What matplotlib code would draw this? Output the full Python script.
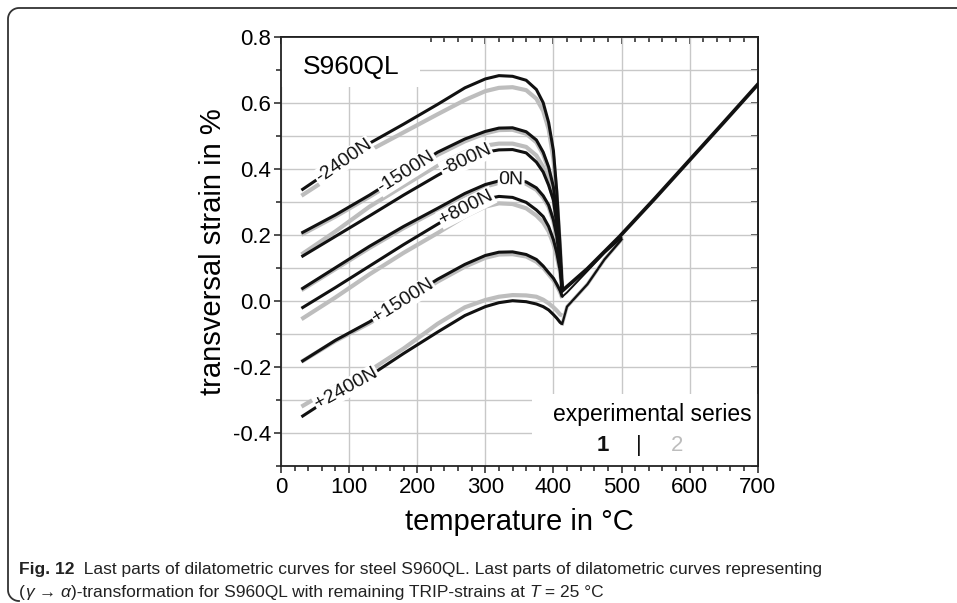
import numpy as np
import matplotlib
matplotlib.use("Agg")
import matplotlib.pyplot as plt
from matplotlib.lines import Line2D
from matplotlib.patches import Rectangle
from matplotlib.transforms import IdentityTransform
from matplotlib.ticker import MultipleLocator

plt.rcParams['font.family'] = ['Liberation Sans', 'DejaVu Sans']

# temperature grid (°C) for the cooling part below the transformation
temp = [30, 80, 130, 180, 230, 270, 300, 320, 340, 360, 375, 385, 393, 400, 405, 410, 413]

# transversal strain in %, series 1 (black) and series 2 (grey)
m2400_s1 = [0.335, 0.405, 0.477, 0.535, 0.595, 0.645, 0.672, 0.682, 0.680, 0.668, 0.640, 0.600, 0.540, 0.455, 0.330, 0.160, 0.035]
m2400_s2 = [0.318, 0.385, 0.455, 0.510, 0.565, 0.608, 0.635, 0.645, 0.647, 0.638, 0.612, 0.575, 0.520, 0.430, 0.310, 0.150, 0.035]
m1500_s1 = [0.205, 0.260, 0.320, 0.385, 0.450, 0.490, 0.513, 0.523, 0.524, 0.512, 0.487, 0.450, 0.405, 0.345, 0.260, 0.130, 0.030]
m1500_s2 = [0.200, 0.255, 0.315, 0.378, 0.442, 0.483, 0.507, 0.517, 0.518, 0.506, 0.480, 0.443, 0.398, 0.338, 0.255, 0.128, 0.030]
m800_s1 = [0.133, 0.195, 0.257, 0.320, 0.380, 0.425, 0.450, 0.457, 0.458, 0.448, 0.420, 0.390, 0.350, 0.305, 0.230, 0.120, 0.030]
m800_s2 = [0.140, 0.210, 0.285, 0.348, 0.410, 0.450, 0.470, 0.476, 0.476, 0.466, 0.440, 0.405, 0.360, 0.310, 0.235, 0.120, 0.030]
n0_s1 = [0.035, 0.100, 0.165, 0.225, 0.280, 0.325, 0.352, 0.363, 0.367, 0.360, 0.342, 0.318, 0.290, 0.245, 0.195, 0.110, 0.030]
n0_s2 = [0.032, 0.096, 0.160, 0.220, 0.275, 0.319, 0.346, 0.357, 0.361, 0.354, 0.336, 0.312, 0.284, 0.240, 0.190, 0.108, 0.030]
p800_s1 = [-0.023, 0.040, 0.105, 0.170, 0.232, 0.280, 0.308, 0.316, 0.313, 0.298, 0.275, 0.255, 0.225, 0.185, 0.145, 0.090, 0.030]
p800_s2 = [-0.056, 0.010, 0.080, 0.145, 0.205, 0.255, 0.285, 0.295, 0.293, 0.280, 0.258, 0.237, 0.210, 0.172, 0.135, 0.085, 0.030]
p1500_s1 = [-0.185, -0.120, -0.064, 0.000, 0.065, 0.110, 0.137, 0.147, 0.148, 0.140, 0.125, 0.105, 0.085, 0.068, 0.050, 0.030, 0.012]
p1500_s2 = [-0.185, -0.122, -0.068, -0.005, 0.058, 0.103, 0.130, 0.140, 0.141, 0.134, 0.118, 0.100, 0.080, 0.062, 0.045, 0.025, 0.008]
p2400_s1 = [-0.352, -0.285, -0.228, -0.160, -0.095, -0.045, -0.018, -0.006, 0.000, -0.003, -0.010, -0.018, -0.028, -0.042, -0.053, -0.066, -0.070]
p2400_s2 = [-0.321, -0.260, -0.212, -0.145, -0.070, -0.020, 0.002, 0.012, 0.017, 0.016, 0.012, 0.003, -0.008, -0.020, -0.030, -0.042, -0.045]

# reheating / austenite branch, common to all curves
temp_aus = [413, 450, 497, 550, 600, 650, 700]
eps_aus = [0.030, 0.097, 0.194, 0.312, 0.426, 0.540, 0.655]

# lower branches after the transformation for the tensile loads
temp_tail = [413, 420, 450, 475, 500]
tail_p1500 = [0.012, 0.025, 0.090, 0.145, 0.190]
tail_p2400 = [-0.070, -0.018, 0.050, 0.125, 0.185]

loads = ["-2400N", "-1500N", "-800N", "0N", "+800N", "+1500N", "+2400N"]
series1 = [m2400_s1, m1500_s1, m800_s1, n0_s1, p800_s1, p1500_s1, p2400_s1]
series2 = [m2400_s2, m1500_s2, m800_s2, n0_s2, p800_s2, p1500_s2, p2400_s2]
label_temp = [92, 184, 272, 338, 272, 179, 96]

BLACK = "#111111"
GREY = "#bdbdbd"

fig = plt.figure(figsize=(9.57, 6.03), dpi=100)

# page frame: open line along the top and the left side with rounded corners (pixels)
r = 11
a1 = np.linspace(np.pi / 2, np.pi, 20)
a2 = np.linspace(np.pi, 1.5 * np.pi, 20)
fx = np.concatenate([[960], 8 + r + r * np.cos(a1), 8 + r + r * np.cos(a2)])
fy = np.concatenate([[595], 595 - r + r * np.sin(a1), 2 + r + r * np.sin(a2)])
fig.add_artist(Line2D(fx, fy, transform=IdentityTransform(), color="#333333", lw=1.3))

ax = fig.add_axes([281 / 957, 1 - 465.7 / 603, (757.7 - 281) / 957, (465.7 - 36.7) / 603])
ax.set_xlim(0, 700)
ax.set_ylim(-0.5, 0.8)

ax.xaxis.set_major_locator(MultipleLocator(100))
ax.xaxis.set_minor_locator(MultipleLocator(20))
ax.yaxis.set_minor_locator(MultipleLocator(0.1))
yt = np.arange(-0.4, 0.81, 0.2)
ax.set_yticks(yt)
ax.set_yticklabels([f"{v:.1f}" for v in yt])

ax.set_axisbelow(True)
ax.grid(axis='x', which='major', color='#c8c8c8', lw=1.0)
ax.grid(axis='y', which='both', color='#c8c8c8', lw=1.0)

ax.tick_params(axis='both', which='both', direction='out', color='#222222', width=1.1,
               labelsize=16, top=False, right=False)
ax.tick_params(which='major', length=5)
ax.tick_params(which='minor', length=3.5)
ax.tick_params(axis='x', pad=3)
ax.tick_params(axis='y', pad=2)
for sp in ax.spines.values():
    sp.set_linewidth(1.3)
    sp.set_color('#222222')

secx = ax.secondary_xaxis('top')
secx.xaxis.set_major_locator(MultipleLocator(100))
secx.xaxis.set_minor_locator(MultipleLocator(20))
secx.tick_params(which='both', direction='in', labeltop=False, color='#222222', width=1.1)
secx.tick_params(which='major', length=5)
secx.tick_params(which='minor', length=3.5)
secx.spines['top'].set_linewidth(1.3)
secy = ax.secondary_yaxis('right')
secy.yaxis.set_major_locator(MultipleLocator(0.2))
secy.yaxis.set_minor_locator(MultipleLocator(0.1))
secy.tick_params(which='both', direction='in', labelright=False, color='#222222', width=1.1)
secy.tick_params(which='both', length=5)
secy.spines['right'].set_linewidth(1.3)

# white areas behind the title and the series legend
ax.add_patch(Rectangle((0, 0.648), 204, 0.152, facecolor='white', edgecolor='none', zorder=0.8))
ax.add_patch(Rectangle((368, -0.5), 332, 0.217, facecolor='white', edgecolor='none', zorder=0.8))

for s2 in series2:
    ax.plot(temp, s2, color=GREY, lw=3.0, solid_capstyle='butt', zorder=2)
ax.plot(temp_tail, tail_p2400, color=GREY, lw=2.6, zorder=2)
for s1 in series1:
    ax.plot(temp, s1, color=BLACK, lw=2.2, solid_capstyle='butt', zorder=3)
ax.plot(temp_tail, tail_p1500, color=BLACK, lw=1.4, zorder=3)
ax.plot(temp_tail, tail_p2400, color=BLACK, lw=1.6, zorder=3)
ax.plot(temp_aus, eps_aus, color=BLACK, lw=2.7, zorder=3)

# inline load labels following the curves
for name, s1, tl in zip(loads, series1, label_temp):
    yl = np.interp(tl, temp, s1)
    p0 = ax.transData.transform((tl - 15, np.interp(tl - 15, temp, s1)))
    p1 = ax.transData.transform((tl + 15, np.interp(tl + 15, temp, s1)))
    ang = np.degrees(np.arctan2(p1[1] - p0[1], p1[0] - p0[0]))
    ax.text(tl, yl, name, rotation=ang, rotation_mode='anchor', ha='center', va='center',
            fontsize=14, color=BLACK, zorder=5,
            bbox=dict(boxstyle='square,pad=0.05', facecolor='white', edgecolor='none'))

ax.text(32, 0.709, "S960QL", fontsize=19, ha='left', va='center', zorder=5)
ax.text(545, -0.346, "experimental series", fontsize=16.5, ha='center', va='center', zorder=5)
ax.text(473, -0.44, "1", fontsize=16, ha='center', va='center', color=BLACK,
        fontweight='bold', zorder=5)
ax.text(526, -0.44, "|", fontsize=16, ha='center', va='center', color=BLACK, zorder=5)
ax.text(582, -0.44, "2", fontsize=16, ha='center', va='center', color=GREY, zorder=5)

ax.set_xlabel("temperature in °C", fontsize=21, labelpad=7)
ax.set_ylabel("transversal strain in %", fontsize=21, labelpad=4)

# caption, written piece by piece so that bold and italic parts can be mixed
renderer = fig.canvas.get_renderer()


def caption_line(x_px, y_px, pieces, size=12.5):
    x = x_px
    for s, style, weight in pieces:
        t = fig.text(x / 957, 1 - y_px / 603, s, fontsize=size, style=style,
                     fontweight=weight, ha='left', va='baseline', color='#222222')
        x += t.get_window_extent(renderer).width


caption_line(19, 574, [("Fig. 12", "normal", "bold"),
                       ("  Last parts of dilatometric curves for steel S960QL. Last parts of "
                        "dilatometric curves representing", "normal", "normal")])
caption_line(19, 597, [("(", "normal", "normal"), ("γ", "italic", "normal"),
                       (" → ", "normal", "normal"), ("α", "italic", "normal"),
                       (")-transformation for S960QL with remaining TRIP-strains at ", "normal", "normal"),
                       ("T", "italic", "normal"), (" = 25 °C", "normal", "normal")])

fig.savefig("out.png", dpi=100)
